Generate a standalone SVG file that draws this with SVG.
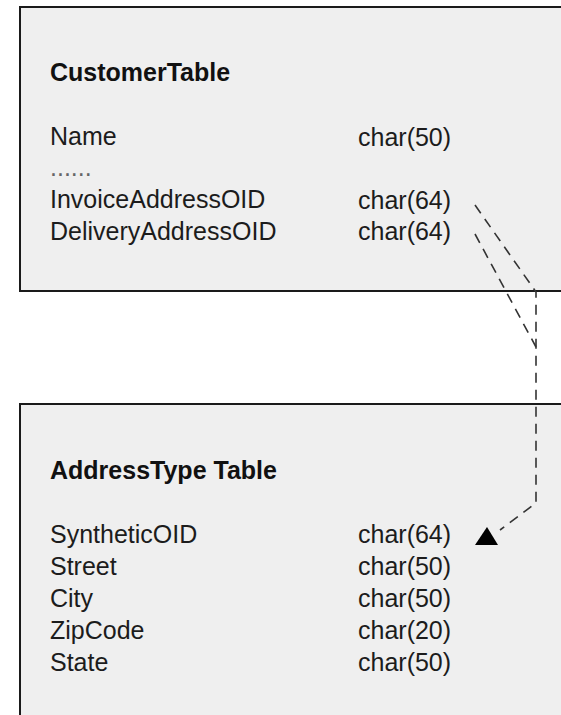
<svg xmlns="http://www.w3.org/2000/svg" width="561" height="715" viewBox="0 0 561 715">
  <style>
    .table { fill: #efefef; stroke: #1a1a1a; stroke-width: 2; }
    .title { font-family: "Liberation Sans", Arial, sans-serif; font-size: 25px; font-weight: bold; fill: #111; }
    .field { font-family: "Liberation Sans", Arial, sans-serif; font-size: 25px; fill: #1c1c1c; }
    .ellipsis { font-family: "Liberation Sans", Arial, sans-serif; font-size: 25px; fill: #666; }
    .link { fill: none; stroke: #333; stroke-width: 1.6; stroke-dasharray: 10 7; }
  </style>
  <rect width="561" height="715" fill="#ffffff"/>

  <g id="customer-table">
    <rect class="table" x="20" y="7" width="560" height="284"/>
    <text class="title" x="50" y="81">CustomerTable</text>
    <text class="field" x="50" y="145">Name</text>
    <text class="field" x="358" y="146">char(50)</text>
    <text class="ellipsis" x="50" y="176">......</text>
    <text class="field" x="50" y="208">InvoiceAddressOID</text>
    <text class="field" x="358" y="209">char(64)</text>
    <text class="field" x="50" y="240">DeliveryAddressOID</text>
    <text class="field" x="358" y="240">char(64)</text>
  </g>

  <g id="address-type-table">
    <rect class="table" x="20" y="404" width="560" height="330"/>
    <text class="title" x="50" y="479">AddressType Table</text>
    <text class="field" x="50" y="543">SyntheticOID</text>
    <text class="field" x="358" y="543">char(64)</text>
    <text class="field" x="50" y="575">Street</text>
    <text class="field" x="358" y="575">char(50)</text>
    <text class="field" x="50" y="607">City</text>
    <text class="field" x="358" y="607">char(50)</text>
    <text class="field" x="50" y="639">ZipCode</text>
    <text class="field" x="358" y="639">char(20)</text>
    <text class="field" x="50" y="671">State</text>
    <text class="field" x="358" y="671">char(50)</text>
  </g>

  <g id="connectors">
    <path class="link" d="M475,205 L536,292 L536,503 L500,530"/>
    <path class="link" d="M475,234 L536,347"/>
    <polygon points="487,527 475,545 498,545" fill="#000"/>
  </g>
</svg>
